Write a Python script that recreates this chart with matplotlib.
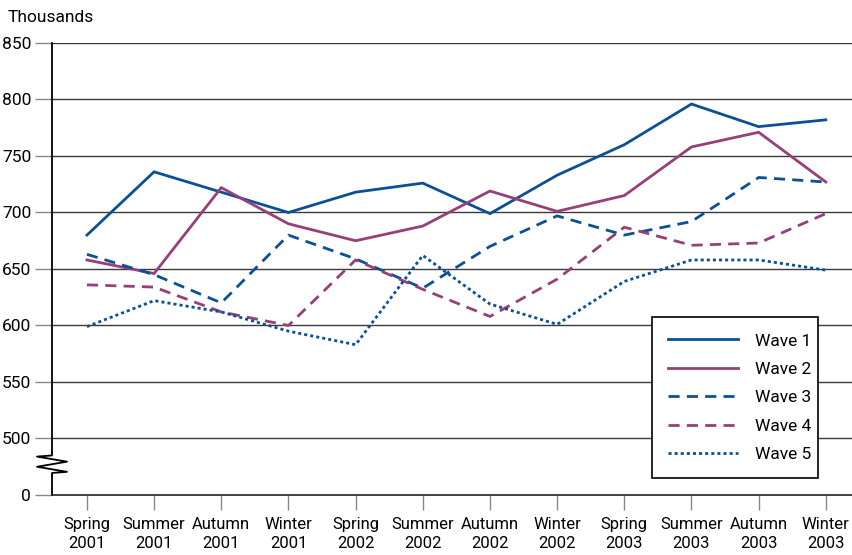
import matplotlib
matplotlib.use("Agg")
import matplotlib.pyplot as plt
import matplotlib.transforms as mtransforms

plt.rcParams['font.family'] = ['Roboto', 'DejaVu Sans']

categories = ["Spring\n2001", "Summer\n2001", "Autumn\n2001", "Winter\n2001",
              "Spring\n2002", "Summer\n2002", "Autumn\n2002", "Winter\n2002",
              "Spring\n2003", "Summer\n2003", "Autumn\n2003", "Winter\n2003"]

wave1 = [680, 736, 718, 700, 718, 726, 699, 733, 760, 796, 776, 782]
wave2 = [658, 646, 722, 690, 675, 688, 719, 701, 715, 758, 771, 727]
wave3 = [663, 645, 620, 680, 659, 633, 670, 697, 680, 692, 731, 727]
wave4 = [636, 634, 612, 600, 658, 632, 608, 641, 687, 671, 673, 699]
wave5 = [599, 622, 612, 595, 583, 662, 619, 601, 639, 658, 658, 649]

ytick_values = [450, 500, 550, 600, 650, 700, 750, 800, 850]
ytick_labels = ["0", "500", "550", "600", "650", "700", "750", "800", "850"]

blue = "#0b4f95"
purple = "#963f78"

fig = plt.figure(figsize=(8.52, 5.55), dpi=100)
ax = fig.add_axes([52/852, 60/555, 800/852, 452/555])

x = list(range(len(categories)))
lw = 2.0
ax.plot(x, wave1, color=blue, lw=lw, label="Wave 1", solid_joinstyle='miter')
ax.plot(x, wave2, color=purple, lw=lw, label="Wave 2", solid_joinstyle='miter')
ax.plot(x, wave3, color=blue, lw=lw, ls=(0, (4, 2.6)), label="Wave 3")
ax.plot(x, wave4, color=purple, lw=lw, ls=(0, (4, 2.6)), label="Wave 4")
ax.plot(x, wave5, color=blue, lw=lw, ls=(0, (1.1, 1.1)), label="Wave 5")

ax.set_xlim(-0.52, 11.39)
ax.set_ylim(450, 850)

# gridlines
for v in ytick_values[1:]:
    ax.axhline(v, color="#3a3a3a", lw=1.0, zorder=0)

ax.set_yticks(ytick_values)
ax.set_yticklabels(ytick_labels)
ax.set_xticks(x)
ax.set_xticklabels(categories, linespacing=1.3)
ax.tick_params(axis='y', length=12, width=1, color="#888888", labelsize=12.5, pad=3)
ax.tick_params(axis='x', length=11, width=1, color="#888888", labelsize=12, pad=5)

for s in ['top', 'right']:
    ax.spines[s].set_visible(False)
ax.spines['bottom'].set_color('#222222')
ax.spines['bottom'].set_linewidth(1.2)

# broken left axis
ax.spines['left'].set_visible(False)
btr = mtransforms.blended_transform_factory(ax.transAxes, ax.transData)
ax.plot([0, 0], [850, 488], color='black', lw=1.3, transform=btr, clip_on=False)
ax.plot([0, 0], [467, 450], color='black', lw=1.3, transform=btr, clip_on=False)
dx = 15/800
zz_x = [0, 0, -dx, dx, -dx, dx, 0, 0]
zz_y = [488, 485, 484, 479.5, 475, 470.5, 469.5, 467]
ax.plot(zz_x, zz_y, color='black', lw=1.3, transform=btr, clip_on=False)

leg_h = 157/452
leg = ax.legend(loc='upper left', bbox_to_anchor=(0.75, 0.394 - leg_h, 0.2075, leg_h),
                mode='expand', borderaxespad=0,
                frameon=True, fancybox=False, edgecolor='black', fontsize=12.5,
                handlelength=4.0, handletextpad=1.0, labelspacing=0.76,
                borderpad=0.95)
leg.get_frame().set_linewidth(1.2)
leg.get_frame().set_alpha(1)

fig.text(8/852, 1 - 17/555, "Thousands", fontsize=12.5, va='center', ha='left')

fig.savefig("out.png", dpi=100)
